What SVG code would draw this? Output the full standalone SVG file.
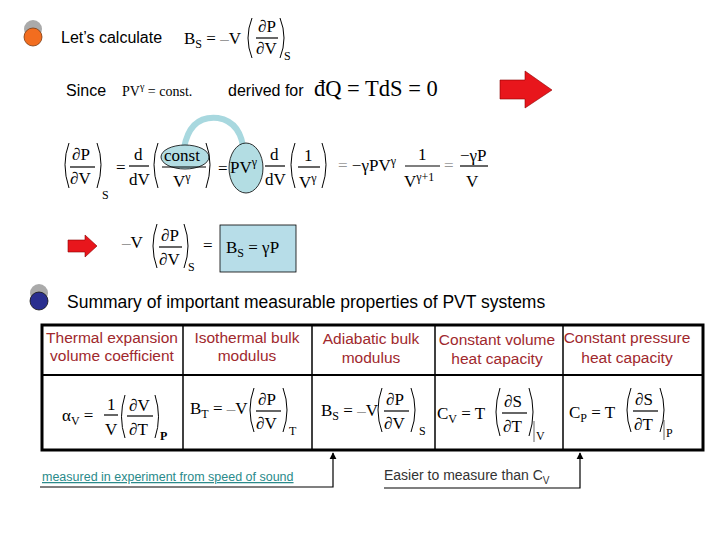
<svg xmlns="http://www.w3.org/2000/svg" width="720" height="540" viewBox="0 0 720 540">
<style>
.s{font-family:"Liberation Sans",Arial,sans-serif;font-size:16px;fill:#000}
.m{font-family:"Liberation Serif","Times New Roman",serif;font-size:17px;fill:#000}
.g{fill:#999}
.sm{font-size:12px}
.h{font-family:"Liberation Sans",Arial,sans-serif;font-size:15.5px;fill:#a0282d;text-anchor:middle}
.p{fill:none;stroke:#000;stroke-width:1}
.ln{stroke:#000;stroke-width:1.2}
</style>
<defs>
<marker id="ah" viewBox="0 0 10 10" refX="9" refY="5" markerWidth="6" markerHeight="6" orient="auto"><path d="M0,0 L10,5 L0,10 Z" fill="#000"/></marker>
</defs>
<rect width="720" height="540" fill="#fff"/>
<g id="b1"><ellipse cx="33" cy="29" rx="9" ry="9" fill="#aaa"/><ellipse cx="33" cy="37" rx="9" ry="9" fill="#f26d1f" stroke="#7a3a10" stroke-width="0.8"/></g>
<g id="b2"><ellipse cx="39" cy="293" rx="9" ry="9" fill="#aaa"/><ellipse cx="39" cy="301" rx="9" ry="9" fill="#2a2f8f" stroke="#111" stroke-width="0.8"/></g>
<text class="s" x="61" y="43">Let’s calculate</text>
<text class="m" x="184" y="44">B<tspan class="sm" dy="4">S</tspan><tspan dy="-4"> = </tspan><tspan class="g">–</tspan>V</text>
<path class="p" d="M252,18 Q244,38 252,58 M280,18 Q288,38 280,58"/>
<text class="m" x="258" y="32">∂P</text><line class="ln" x1="256" y1="38" x2="278" y2="38"/><text class="m" x="256" y="54">∂V</text>
<text class="m sm" x="284" y="60">S</text>
<text class="s" x="66" y="96">Since</text>
<text class="m" x="122" y="96" style="font-size:14px">PV<tspan dy="-6" style="font-size:10px">γ</tspan><tspan dy="6"> = const.</tspan></text>
<text class="s" x="228" y="96">derived for</text>
<text class="m" x="314" y="96" style="font-size:22.5px">đQ = TdS = 0</text>
<path id="arrow1" d="M500,80 L525,80 L525,71 L552,90 L525,108 L525,99 L500,99 Z" fill="#e8161c" stroke="#8b0000" stroke-width="0.6"/>
<path d="M184,148 Q190,115 218,118 Q242,122 244,154" fill="none" stroke="#a8d8df" stroke-width="6"/>
<ellipse cx="185" cy="157" rx="24" ry="12" fill="#b3dde3" stroke="#000" stroke-width="0.8"/>
<ellipse cx="246" cy="168" rx="17" ry="25" fill="#b3dde3" stroke="#000" stroke-width="0.8"/>
<path class="p" d="M69,143 Q61,164 69,188 M97,143 Q105,164 97,188"/>
<text class="m" x="72" y="160">∂P</text><line class="ln" x1="70" y1="167" x2="95" y2="167"/><text class="m" x="70" y="184">∂V</text>
<text class="m sm" x="102" y="199">S</text>
<text class="m" x="116" y="173">=</text>
<text class="m" x="134" y="160">d</text><line class="ln" x1="129" y1="166" x2="149" y2="166"/><text class="m" x="129" y="185">dV</text>
<path class="p" d="M158,143 Q150,164 158,188 M206,143 Q214,164 206,188"/>
<text class="m" x="164" y="161">const</text><line class="ln" x1="162" y1="167" x2="206" y2="167"/><text class="m" x="173" y="187">V<tspan dy="-6" class="sm">γ</tspan></text>
<text class="m" x="218" y="174">=</text>
<text class="m" x="230" y="173">PV<tspan dy="-7" class="sm">γ</tspan></text>
<text class="m" x="270" y="160">d</text><line class="ln" x1="265" y1="166" x2="285" y2="166"/><text class="m" x="265" y="185">dV</text>
<path class="p" d="M295,143 Q287,164 295,188 M322,143 Q330,164 322,188"/>
<text class="m" x="304" y="161">1</text><line class="ln" x1="298" y1="167" x2="320" y2="167"/><text class="m" x="299" y="188">V<tspan dy="-6" class="sm">γ</tspan></text>
<text class="m" x="338" y="171"><tspan class="g">=</tspan> −γPV<tspan dy="-6" class="sm">γ</tspan></text>
<text class="m" x="418" y="160">1</text><line class="ln" x1="405" y1="166" x2="440" y2="166"/><text class="m" x="404" y="187">V<tspan dy="-6" class="sm">γ+1</tspan></text>
<text class="m g" x="444" y="171">=</text>
<text class="m" x="460" y="161">−γP</text><line class="ln" x1="460" y1="166" x2="488" y2="166"/><text class="m" x="466" y="187">V</text>
<path id="arrow2" d="M68,240 L85,240 L85,235 L97,246 L85,257 L85,252 L68,252 Z" fill="#e8161c" stroke="#8b0000" stroke-width="0.6"/>
<text class="m" x="122" y="248"><tspan class="g">–</tspan>V</text>
<path class="p" d="M157,224 Q149,246 157,268 M184,224 Q192,246 184,268"/>
<text class="m" x="161" y="241">∂P</text><line class="ln" x1="159" y1="247" x2="182" y2="247"/><text class="m" x="159" y="265">∂V</text>
<text class="m sm" x="188" y="271">S</text>
<text class="m" x="203" y="251">=</text>
<g id="bsbox"><rect x="220" y="225" width="76" height="47" fill="#b7dde8" stroke="#000" stroke-width="0.8"/>
<text class="m" x="226" y="253">B<tspan class="sm" dy="4">S</tspan><tspan dy="-4">  = γP</tspan></text></g>
<text class="s" x="67" y="308" style="font-size:17.5px">Summary of important measurable properties of PVT systems</text>
<g id="table">
<rect x="42" y="325" width="661" height="125" fill="none" stroke="#000" stroke-width="3"/>
<line x1="42" y1="375" x2="703" y2="375" stroke="#000" stroke-width="2"/>
<line x1="183" y1="325" x2="183" y2="450" stroke="#000" stroke-width="1.5"/>
<line x1="312" y1="325" x2="312" y2="450" stroke="#000" stroke-width="1.5"/>
<line x1="435" y1="325" x2="435" y2="450" stroke="#000" stroke-width="1.5"/>
<line x1="563" y1="325" x2="563" y2="450" stroke="#000" stroke-width="1.5"/>
<text class="h" x="112" y="343">Thermal expansion</text><text class="h" x="112" y="361">volume coefficient</text>
<text class="h" x="247" y="343">Isothermal bulk</text><text class="h" x="247" y="361">modulus</text>
<text class="h" x="371" y="344">Adiabatic bulk</text><text class="h" x="371" y="363">modulus</text>
<text class="h" x="497" y="345">Constant volume</text><text class="h" x="497" y="364">heat capacity</text>
<text class="h" x="627" y="343">Constant pressure</text><text class="h" x="627" y="363">heat capacity</text>
<text class="m" x="62" y="421">α<tspan class="sm" dy="4">V</tspan><tspan dy="-4"> =</tspan></text>
<text class="m" x="107" y="410">1</text><line class="ln" x1="104" y1="415" x2="118" y2="415"/><text class="m" x="105" y="435">V</text>
<path class="p" d="M125,395 Q118,417 125,438 M155,395 Q162,417 155,438"/>
<text class="m" x="129" y="411">∂V</text><line class="ln" x1="127" y1="416" x2="153" y2="416"/><text class="m" x="129" y="435">∂T</text>
<text class="m sm" x="160" y="440" font-weight="bold">P</text>
<text class="m" x="190" y="414">B<tspan class="sm" dy="4">T</tspan><tspan dy="-4"> = </tspan><tspan class="g">–</tspan>V</text>
<path class="p" d="M254,388 Q246,410 254,432 M283,388 Q291,410 283,432"/>
<text class="m" x="258" y="405">∂P</text><line class="ln" x1="256" y1="411" x2="281" y2="411"/><text class="m" x="256" y="429">∂V</text>
<text class="m sm" x="289" y="435">T</text>
<text class="m" x="321" y="416">B<tspan class="sm" dy="4">S</tspan><tspan dy="-4"> = </tspan><tspan class="g">–</tspan>V</text>
<path class="p" d="M382,388 Q374,410 382,432 M411,388 Q419,410 411,432"/>
<text class="m" x="386" y="405">∂P</text><line class="ln" x1="384" y1="411" x2="409" y2="411"/><text class="m" x="384" y="429">∂V</text>
<text class="m sm" x="419" y="435">S</text>
<text class="m" x="437" y="419">C<tspan class="sm" dy="4">V</tspan><tspan dy="-4"> = T</tspan></text>
<path class="p" d="M500,388 Q492,412 500,436 M529,388 Q537,412 529,436"/>
<text class="m" x="504" y="407">∂S</text><line class="ln" x1="502" y1="413" x2="527" y2="413"/><text class="m" x="503" y="432">∂T</text>
<line x1="534" y1="421" x2="534" y2="442" stroke="#000" stroke-width="0.6"/><text class="m sm" x="536" y="440">V</text>
<text class="m" x="569" y="418">C<tspan class="sm" dy="4">P</tspan><tspan dy="-4"> = T</tspan></text>
<path class="p" d="M631,388 Q623,410 631,432 M660,388 Q668,410 660,432"/>
<text class="m" x="635" y="405">∂S</text><line class="ln" x1="633" y1="411" x2="658" y2="411"/><text class="m" x="634" y="430">∂T</text>
<line x1="664" y1="420" x2="664" y2="440" stroke="#000" stroke-width="0.6"/><text class="m sm" x="666" y="437">P</text>
</g>
<g id="connectors">
<path d="M40,487 L333,487 L333,453" fill="none" stroke="#000" stroke-width="1.2" marker-end="url(#ah)"/>
<path d="M384,488 L580,488 L580,453" fill="none" stroke="#000" stroke-width="1.2" marker-end="url(#ah)"/>
</g>
<text x="42" y="481" style="font-family:'Liberation Sans',Arial,sans-serif;font-size:12.5px;fill:#2a8a8a;text-decoration:underline">measured in experiment from speed of sound</text>
<text x="384" y="480" style="font-family:'Liberation Sans',Arial,sans-serif;font-size:14px;fill:#333">Easier to measure than C<tspan dy="4" style="font-size:10px">V</tspan></text>
</svg>
